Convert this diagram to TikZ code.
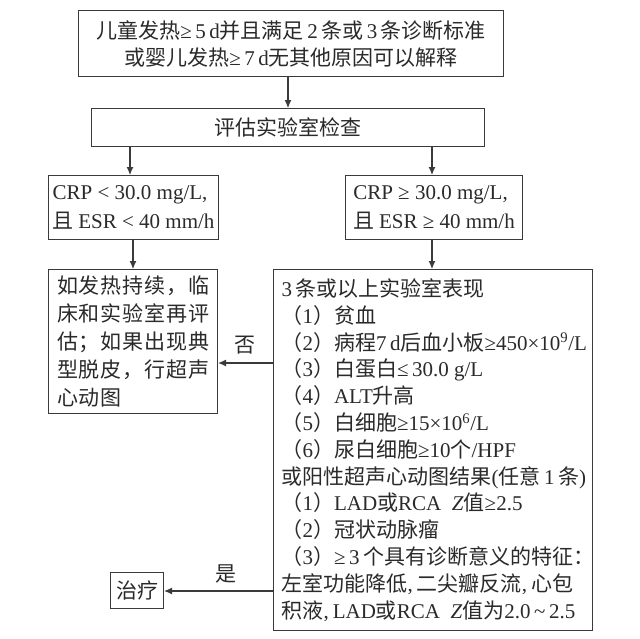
\documentclass[tikz,border=0pt]{standalone}
\usepackage{fontspec}
\usetikzlibrary{arrows.meta}
\setmainfont{Liberation Serif}
\newfontfamily\cjkfont{Noto Sans CJK SC}
\newfontfamily\cjkfontsp[LetterSpace=4]{Noto Sans CJK SC}
\newfontfamily\latinfont{Liberation Serif}
\XeTeXinterchartokenstate=1
\newXeTeXintercharclass\CJKcls
\newcount\cjkcc
\cjkcc="4E00
\loop \XeTeXcharclass\cjkcc=\CJKcls \advance\cjkcc by 1 \ifnum\cjkcc<"A000 \repeat
\cjkcc="3000
\loop \XeTeXcharclass\cjkcc=\CJKcls \advance\cjkcc by 1 \ifnum\cjkcc<"3040 \repeat
\cjkcc="FF00
\loop \XeTeXcharclass\cjkcc=\CJKcls \advance\cjkcc by 1 \ifnum\cjkcc<"FFF0 \repeat
\XeTeXinterchartoks 0 \CJKcls={\cjkfont}
\XeTeXinterchartoks 4095 \CJKcls={\cjkfont}
\XeTeXinterchartoks \CJKcls 0={\latinfont}
\XeTeXinterchartoks 4095 0={\latinfont}
\newcommand\fsz[2]{\fontsize{#1}{#2}\selectfont}
\newcommand\cm{,\hspace{4pt}}
\definecolor{linecol}{HTML}{3A3A3A}
\definecolor{txtcol}{HTML}{2A2A2A}
\tikzset{
  box/.style={draw=linecol, line width=1.1pt, inner sep=0pt, text=txtcol, anchor=north west, align=left},
  arr/.style={draw=linecol, line width=1.1pt, -{Latex[length=8pt,width=7pt]}},
  lab/.style={text=txtcol, font=\fsz{21}{24}, inner sep=0pt}
}
\begin{document}
\begin{tikzpicture}[x=1pt,y=-1pt]
\useasboundingbox[fill=white] (0,0) rectangle (640,638);
\node[box, minimum width=425pt, minimum height=66pt, align=center, font=\fsz{21}{27}] (top) at (78,10)
  {儿童发热≥\,5\,d并且满足\,2\,条或\,3\,条诊断标准\\或婴儿发热≥\,7\,d无其他原因可以解释};
\node[box, minimum width=393pt, minimum height=38pt, font=\fsz{21}{24}] (eval) at (91,108) {评估实验室检查};
\node[box, minimum width=170pt, minimum height=64pt, font=\fsz{21}{29}] (crpl) at (48,175)
  {CRP < 30.0 mg/L\cm\\且 ESR < 40 mm/h};
\node[box, minimum width=177pt, minimum height=64pt, font=\fsz{21}{29}] (crpr) at (345,175)
  {CRP ≥ 30.0 mg/L\cm\\且 ESR ≥ 40 mm/h};
\node[box, minimum width=169pt, minimum height=144pt, font=\fsz{21}{28}\let\cjkfont\cjkfontsp] (lbox) at (48,269)
  {如发热持续，临\\床和实验室再评\\估；如果出现典\\型脱皮，行超声\\心动图};
\node[box, minimum width=319pt, minimum height=361pt, inner xsep=0pt, font=\fsz{21}{26.8}] (big) at (273,269)
  {\hspace*{8pt}\begin{minipage}{309pt}\raggedright
   3\,条或以上实验室表现\\
   （1）贫血\\
   （2）病程7\,d后血小板≥450×10\textsuperscript{9}/L\\
   （3）白蛋白≤\,30.0 g/L\\
   （4）ALT升高\\
   （5）白细胞≥15×10\textsuperscript{6}/L\\
   （6）尿白细胞≥10个/HPF\\
   或阳性超声心动图结果(任意\,1\,条)\\
   （1）LAD或RCA\ \ \textit{Z}值≥2.5\\
   （2）冠状动脉瘤\\
   （3）≥\,3\,个具有诊断意义的特征：\\
   左室功能降低\cm 二尖瓣反流\cm 心包\\
   积液\cm LAD或RCA\ \ \textit{Z}值为2.0\,\textasciitilde\,2.5
   \end{minipage}\hspace*{2pt}};
\node[box, minimum width=53pt, minimum height=36pt, font=\fsz{21}{24}] (treat) at (110,572) {治疗};
\coordinate (noY) at (0,363);
\coordinate (yesY) at (0,591);
\draw[arr] (top.south -| 288,0) -- (eval.north -| 288,0);
\draw[arr] (eval.south -| 130,0) -- (crpl.north -| 130,0);
\draw[arr] (eval.south -| 432,0) -- (crpr.north -| 432,0);
\draw[arr] (crpl.south -| 133,0) -- (lbox.north -| 133,0);
\draw[arr] (crpr.south -| 432,0) -- (big.north -| 432,0);
\draw[arr] (big.west |- noY) -- (lbox.east |- noY);
\draw[arr] (big.west |- yesY) -- (treat.east |- yesY);
\node[lab] (nolab) at (245,345) {否};
\node[lab] (yeslab) at (226,574) {是};
\end{tikzpicture}
\end{document}
